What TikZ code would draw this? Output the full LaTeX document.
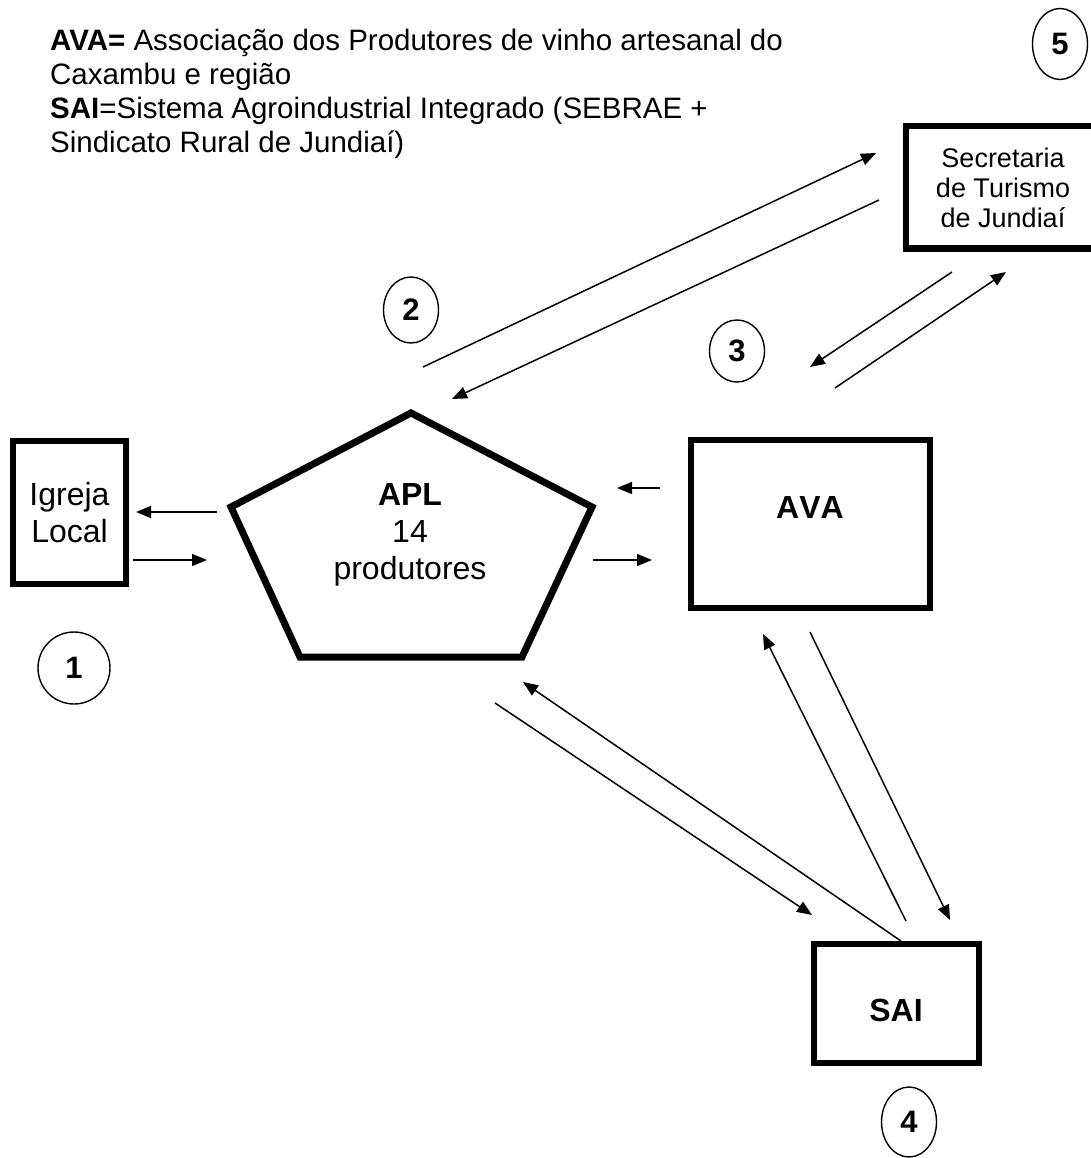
\documentclass[tikz,border=0pt]{standalone}
\usepackage{fontspec}
\setmainfont{Liberation Sans}
\usetikzlibrary{arrows.meta,shapes.geometric}
\begin{document}
\begin{tikzpicture}[x=1pt,y=-1pt,
  thickbox/.style={draw,line width=6pt,align=center,inner sep=0pt},
  num/.style={draw,ellipse,line width=1.4pt,minimum width=55pt,minimum height=66pt,inner sep=0pt,font=\fontsize{31}{36}\selectfont\bfseries},
  flow/.style={line width=1.5pt,-{Triangle[length=15pt,width=12pt]}},
  bigtext/.style={font=\fontsize{32}{37}\selectfont}]
\useasboundingbox (0,0) rectangle (1090,1158);
% legend
\node[anchor=north west,align=left,font=\fontsize{29.5}{34}\selectfont,inner sep=0pt] (legend) at (50,29)
  {\textbf{AVA=} Associação dos Produtores de vinho artesanal do\\Caxambu e região\\\textbf{SAI}=Sistema Agroindustrial Integrado (SEBRAE +\\Sindicato Rural de Jundiaí)};
% boxes
\node[thickbox,minimum width=195pt,minimum height=122pt,font=\fontsize{27}{30}\selectfont] (sec) at (1003,187.5) {Secretaria\\de Turismo\\de Jundiaí};
\node[thickbox,minimum width=113pt,minimum height=143pt,bigtext] (igreja) at (69.5,512.5) {Igreja\\Local};
\node[thickbox,minimum width=239pt,minimum height=168pt] (ava) at (810.5,524) {};
\node[bigtext,font=\fontsize{32}{37}\selectfont\bfseries] (avatxt) at (810,507) {\addfontfeature{Kerning=Off}AVA};
\node[thickbox,minimum width=165pt,minimum height=119pt] (sai) at (896.5,1003.5) {};
\node[font=\fontsize{32}{37}\selectfont\bfseries] (saitxt) at (896,1010) {SAI};
% pentagon
\draw[line width=7pt,line join=miter] (411,413) -- (592,507) -- (522,657) -- (300,657) -- (231,507) -- cycle;
\node[align=center,bigtext] (apl) at (410,535) {\textbf{APL}\\14\\produtores};
% numbers
\node[num,minimum width=72pt,minimum height=72pt] (n1) at (74,668) {1};
\node[num] (n2) at (411,310) {2};
\node[num,minimum height=62pt] (n3) at (737,351) {3};
\node[num,minimum height=70pt] (n4) at (909,1122) {4};
\node[num,minimum height=71pt] (n5) at (1060,44) {5};
% arrow end points
\coordinate (a1s) at (423,367); \coordinate (a1e) at (876,153);
\coordinate (a2s) at (879,200); \coordinate (a2e) at (452,399);
\coordinate (a3s) at (952,272); \coordinate (a3e) at (810,367);
\coordinate (a4s) at (835,388); \coordinate (a4e) at (1006,272);
\coordinate (a5s) at (217,512); \coordinate (a5e) at (136,512);
\coordinate (a6s) at (133,560); \coordinate (a6e) at (207,560);
\coordinate (a7s) at (660,488); \coordinate (a7e) at (617,488);
\coordinate (a8s) at (593,560); \coordinate (a8e) at (652,560);
\coordinate (a9s) at (495,703); \coordinate (a9e) at (812,915);
\coordinate (a10s) at (901,941); \coordinate (a10e) at (523,682);
\coordinate (a11s) at (906,921); \coordinate (a11e) at (763,634);
\coordinate (a12s) at (810,632); \coordinate (a12e) at (950,920);
\foreach \i in {1,...,12} {\draw[flow] (a\i s) -- (a\i e);}
\end{tikzpicture}
\end{document}
